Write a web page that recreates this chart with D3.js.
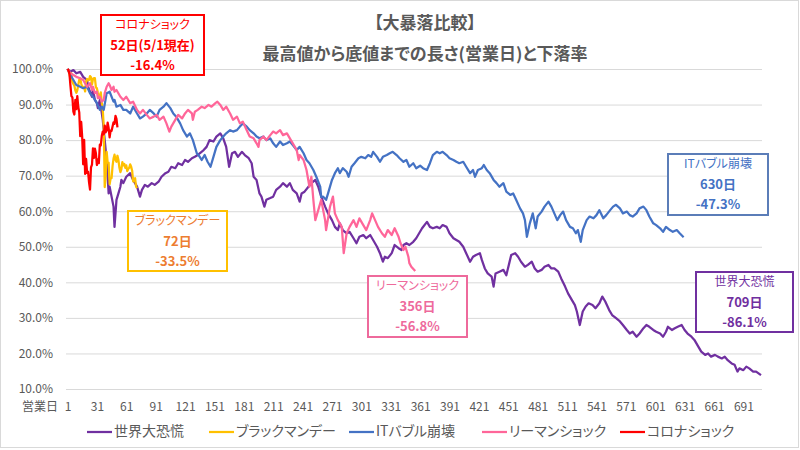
<!DOCTYPE html>
<html>
<head>
<meta charset="utf-8">
<script src="https://cdn.jsdelivr.net/npm/d3@7"></script>
<style>
body { margin: 0; background: #fff; }
text { font-family: "Noto Sans CJK JP", "Noto Sans", sans-serif; font-feature-settings: "palt"; }
</style>
</head>
<body>
<div id="chart"></div>
<script>
// chart data ([営業日, % of peak])
var seriesNames = ["世界大恐慌", "ブラックマンデー", "ITバブル崩壊", "リーマンショック", "コロナショック"];
var seriesColors = ["#7030A0", "#FFC000", "#4472C4", "#FF6699", "#FF0000"];

var depression = [[1,100],[4,99.2],[7,99.7],[10,98.8],[14,99.2],[17,97.8],[21,96.9],[22,95],[24,93.6],[26,92.2],[27,94.1],[29,91.3],[31,90.4],[32,89],[34,91.3],[37,85.7],[39,80],[41,74.4],[43,65],[44,66.9],[46,64.1],[48,61.3],[49,55.6],[51,63.2],[53,65],[55,66.9],[56,68.8],[58,67.9],[61,69.7],[65,70.7],[68,68.8],[72,66.9],[75,64.1],[77,66],[80,67.4],[83,66.9],[87,67.9],[90,67.4],[94,68.3],[97,69.7],[101,70.7],[104,71.1],[107,72.5],[111,72.1],[114,73.5],[118,73],[121,74.4],[124,73.9],[128,74.9],[131,75.3],[134,75.8],[136,76.3],[140,77.2],[143,78.1],[146,80],[150,79.6],[153,81],[157,81.9],[160,80.5],[163,78.1],[166,72.5],[169,76.3],[172,76.7],[175,75.3],[179,76.7],[182,75.8],[186,74.9],[189,73.5],[191,69.7],[194,68.8],[197,65],[199,64.1],[202,61.3],[204,63.2],[208,63.7],[211,64.1],[214,66],[218,66.9],[221,67.9],[225,66.9],[228,67.9],[231,66],[235,65],[238,62.7],[240,65],[243,65.5],[247,66.9],[250,67.9],[254,68.8],[257,66.9],[260,64.1],[264,61.3],[267,59.4],[271,57.5],[274,55.6],[277,54.7],[279,56.6],[282,54.7],[286,53.8],[289,54.2],[293,52.4],[296,51],[299,52.8],[303,53.3],[306,52.4],[310,53.3],[313,51.9],[317,50],[320,48.2],[323,45.8],[325,47.2],[328,46.8],[332,48.2],[335,50.5],[339,49.6],[342,49.1],[344,50.5],[347,51],[350,50.5],[354,51.4],[357,52.4],[360,53.8],[363,55.2],[368,57],[371,55.6],[374,55.2],[378,55.6],[381,55.2],[384,56.1],[388,55.6],[391,53.8],[395,52.4],[398,51.9],[401,51.4],[405,50],[408,48.2],[412,45.8],[415,47.2],[418,47.7],[422,48.2],[424,46.3],[427,43.9],[430,42.5],[434,41.6],[436,38.8],[438,42.5],[442,43],[446,43.5],[449,42],[452,45.4],[454,47.7],[458,48.2],[461,47.2],[464,45.8],[468,44.4],[471,44.9],[475,45.8],[478,43.9],[481,43],[485,43.5],[488,44.4],[492,44.9],[495,43.9],[498,43.9],[502,43],[505,41.1],[509,38.8],[512,36.9],[516,35],[519,33.6],[521,31.8],[524,28],[527,31.8],[530,33.2],[533,34.1],[537,33.6],[540,32.7],[544,34.1],[547,36],[550,34.6],[554,32.2],[557,30.8],[561,29.9],[565,29],[568,28],[572,26.6],[575,25.6],[578,26.1],[582,24.7],[585,25.6],[589,27.1],[592,28],[595,27.5],[599,26.6],[602,26.1],[606,25.6],[609,24.7],[612,26.1],[614,27.5],[618,26.6],[621,27.1],[624,27.5],[628,28],[631,26.6],[634,25.6],[638,24.7],[641,23.8],[645,21.9],[648,20.5],[652,19.6],[655,20],[658,19.1],[662,19.6],[665,19.1],[669,18.6],[672,19.1],[675,18.1],[679,17.2],[682,16.8],[685,14.9],[687,15.8],[691,15.3],[694,16.3],[697,15.8],[701,14.9],[704,14.9],[709,13.9]];

var blackMonday = [[1,100],[2,99.6],[3,98.6],[4,97.3],[5,98.8],[6,96.4],[7,95.8],[8,95.3],[9,94],[10,93.3],[11,94],[12,95.5],[13,97],[14,97.3],[15,95.9],[16,95],[17,95],[18,94.9],[19,93.7],[20,96.5],[21,97.2],[22,96.8],[23,96.9],[24,98],[25,97.7],[26,95.6],[27,97.2],[28,97.4],[29,97.4],[30,94.8],[31,94.6],[32,93.3],[33,92.4],[34,91.9],[35,93.4],[36,90.6],[37,88.5],[38,83.9],[39,66.8],[40,70.3],[41,76.7],[42,73.7],[43,73.7],[44,67.6],[45,69.2],[46,69.3],[47,72.7],[48,74.8],[49,75.9],[50,74.5],[51,73.9],[52,75.6],[53,74.4],[54,72.2],[55,71],[56,71.8],[57,73.8],[58,72.9],[59,73.3],[60,72.2],[61,72.9],[62,71.3],[63,71.9],[64,72.2],[65,73.2],[66,72.5],[67,71.4],[68,68.4],[69,68.9],[70,69.3],[71,66.9],[72,66.5]];

var itBubble = [[1,100],[4,98.3],[7,96.9],[10,95.5],[14,95],[17,94.6],[21,95],[24,93.2],[27,92.2],[31,90.4],[34,88.5],[36,89.4],[38,88.5],[41,93.2],[44,93.6],[48,90.8],[49,91.3],[51,89.4],[55,89.9],[58,88.5],[61,88.5],[65,87.5],[68,89.4],[72,87.5],[75,86.1],[78,86.6],[82,87.5],[85,88.5],[89,87.5],[92,86.6],[95,88.5],[99,89.4],[102,90.4],[106,89],[109,87.5],[112,86.6],[116,84.7],[119,82.8],[123,81],[126,81.9],[129,80],[133,76.3],[136,75.3],[138,74.4],[141,75.8],[144,73.9],[147,72.5],[150,75.3],[153,78.1],[157,80],[160,81],[163,81.9],[167,82.8],[170,82.4],[174,82.8],[177,83.8],[180,84.7],[184,83.8],[187,82.8],[191,81.9],[194,81],[197,80.5],[201,81],[204,80],[208,80.5],[211,79.1],[214,78.1],[218,79.6],[221,78.6],[225,79.1],[228,79.6],[231,78.6],[235,77.2],[238,78.1],[242,76.3],[245,74.4],[248,73.5],[252,71.6],[255,69.7],[259,66.9],[260,64],[262,64.1],[265,63.2],[267,65],[271,68.8],[274,70.7],[277,72.1],[279,70.7],[282,72.1],[286,71.1],[288,69.7],[291,72.5],[294,73.5],[298,74.9],[301,75.3],[305,74.9],[308,75.8],[311,75.3],[313,76.7],[317,75.3],[320,73.9],[323,75.3],[327,75.8],[330,76.3],[333,76.7],[337,75.8],[340,74.9],[344,73.9],[347,74.4],[350,72.5],[354,73.5],[357,72.1],[361,72.8],[364,72.1],[368,71.6],[371,73.5],[374,75.8],[378,76.7],[381,76.3],[384,76.7],[388,75.8],[391,74.9],[395,74.4],[398,73.9],[401,73.5],[405,73.9],[408,72.5],[412,70.7],[415,71.6],[417,69.7],[420,71.6],[424,72.1],[426,73],[429,71.6],[432,70.7],[436,68.8],[439,67.9],[442,66.9],[446,67.9],[449,65.5],[453,64.6],[456,65],[459,63.2],[463,60.8],[466,59.4],[468,57.5],[470,52.8],[473,56.6],[476,59.4],[479,55.2],[481,58.5],[485,59.9],[488,61.3],[492,62.7],[495,61.3],[498,59.4],[501,57.5],[504,58.9],[507,59.9],[510,57.5],[514,55.6],[517,55.2],[520,53.8],[522,54.7],[525,51.4],[527,54.7],[531,57.5],[534,58.5],[538,58],[541,58.9],[544,60.3],[548,58],[551,58.9],[555,60.3],[558,61.3],[561,61.8],[565,60.8],[568,59.4],[572,59.9],[575,58.9],[578,58.5],[582,59.4],[585,60.8],[589,61.3],[592,60.3],[595,58.5],[599,56.6],[602,56.1],[606,55.2],[609,54.2],[612,55.6],[616,54.7],[619,54.2],[623,54.7],[626,53.8],[630,52.7]];

var lehman = [[1,100],[4,98.8],[7,98.3],[10,97.8],[14,97.4],[17,96.9],[21,95],[24,96],[26,94.1],[27,95],[29,93.2],[31,93.6],[32,91.8],[34,92.2],[36,90.8],[38,91.3],[39,93.2],[41,95],[43,96],[44,95.5],[46,94.1],[48,95],[49,93.6],[51,94.1],[55,92.2],[58,91.3],[61,92.2],[65,90.4],[68,90.8],[72,88.5],[75,87.5],[78,88.5],[82,87.1],[85,86.1],[89,86.6],[92,87.1],[95,85.7],[99,86.6],[102,84.7],[105,82.4],[107,83.8],[111,85.7],[114,87.1],[118,86.1],[121,87.5],[124,88.5],[128,87.5],[129,85.7],[131,88],[134,88.5],[138,89.4],[141,89],[145,89.9],[148,89.4],[152,90.4],[154,90.8],[157,89.9],[160,88.5],[163,89.4],[167,87.5],[170,85.7],[174,86.6],[177,84.7],[180,85.2],[184,82.8],[187,81],[191,80.5],[194,79.1],[196,78.1],[197,80],[201,81],[204,80],[208,81.4],[211,82.4],[214,81.9],[218,82.8],[221,81.4],[225,81.9],[228,80.5],[231,79.1],[235,77.2],[237,74.4],[238,75.8],[242,74.4],[245,71.6],[248,66.9],[250,69.7],[252,63.2],[254,57.5],[257,60.3],[260,63.2],[264,57.5],[265,54.7],[269,61.3],[271,63.2],[272,64.1],[274,59.4],[277,57.5],[281,55.6],[283,48.2],[286,53.8],[289,55.6],[293,57.5],[296,55.6],[299,58],[303,56.1],[306,54.7],[310,57.5],[312,59.4],[315,57.5],[318,55.6],[322,53.8],[325,52.8],[328,54.7],[332,53.3],[335,55.2],[339,52.8],[341,51],[344,49.1],[346,50],[349,47.2],[350,45.4],[352,44.4],[356,43.2]];

var corona = [[1,100],[2,99.6],[3,98.6],[4,95.3],[5,92.4],[6,92],[7,88],[8,87.2],[9,91.3],[10,88.7],[11,92.4],[12,89.3],[13,87.8],[14,81.1],[15,85.1],[16,80.9],[17,73.2],[18,80.1],[19,70.5],[20,74.7],[21,70.8],[22,71.1],[23,68.1],[24,66.1],[25,72.3],[26,73.1],[27,77.7],[28,75],[29,77.6],[30,76.3],[31,73],[32,74.6],[33,73.5],[34,78.7],[35,78.5],[36,81.2],[37,82.4],[38,81.6],[39,84.1],[40,82.2],[41,82.7],[42,84.9],[43,83.4],[44,80.8],[45,82.7],[46,82.6],[47,83.8],[48,85],[49,84.6],[50,86.8],[51,86],[52,83.6]];

var seriesData = [depression, blackMonday, itBubble, lehman, corona];

var yTicks = [10, 20, 30, 40, 50, 60, 70, 80, 90, 100];
var xTicks = [1, 31, 61, 91, 121, 151, 181, 211, 241, 271, 301, 331, 361, 391, 421, 451, 481, 511, 541, 571, 601, 631, 661, 691];

var titleLines = ["【大暴落比較】", "最高値から底値までの長さ(営業日)と下落率"];
var calloutNames = ["コロナショック", "ブラックマンデー", "ITバブル崩壊", "リーマンショック", "世界大恐慌"];
var calloutDays = ["52日(5/1現在)", "72日", "630日", "356日", "709日"];
var calloutDrops = ["-16.4%", "-33.5%", "-47.3%", "-56.8%", "-86.1%"];

function init() {
    var w = 800, h = 450;
    var plotLeft = 66, plotRight = 762;

    var svg = d3.select("#chart").append("svg")
                .attr("width", w)
                .attr("height", h);

    svg.append("rect")
       .attr("x", 0.5).attr("y", 0.5)
       .attr("width", w - 2).attr("height", h - 3)
       .attr("fill", "#fff")
       .attr("stroke", "#d9d9d9");

    var xScale = d3.scaleLinear().domain([1, 709]).range([67.5, 761]);
    var yScale = d3.scaleLinear().domain([10, 100]).range([389, 69]);

    // title
    svg.selectAll(".title")
       .data(titleLines)
       .enter().append("text")
       .attr("class", "title")
       .attr("x", 425)
       .attr("y", (d, i) => i === 0 ? 24 : 55)
       .attr("dominant-baseline", "middle")
       .attr("text-anchor", "middle")
       .attr("font-size", "17px")
       .attr("font-weight", "bold")
       .attr("fill", "#595959")
       .text(d => d);

    // y gridlines + labels
    var yAxis = svg.append("g")
        .attr("transform", "translate(" + plotLeft + ",0)")
        .call(d3.axisLeft(yScale)
                .tickValues(yTicks)
                .tickSize(-(plotRight - plotLeft))
                .tickPadding(13)
                .tickFormat(d => d.toFixed(1) + "%"));
    yAxis.select(".domain").remove();
    yAxis.selectAll("line").attr("stroke", "#d9d9d9");
    yAxis.selectAll("text")
         .attr("fill", "#595959")
         .style("font-size", "12px")
         .style("font-family", "'Noto Sans CJK JP', sans-serif");

    // x labels
    var xAxis = svg.append("g")
        .attr("transform", "translate(0,389)")
        .call(d3.axisBottom(xScale).tickValues(xTicks).tickSize(0).tickPadding(13));
    xAxis.select(".domain").remove();
    xAxis.selectAll("text")
         .attr("fill", "#595959")
         .style("font-size", "12px")
         .style("font-family", "'Noto Sans CJK JP', sans-serif");

    svg.append("text")
       .attr("x", 58).attr("y", 408)
       .attr("text-anchor", "end")
       .attr("dominant-baseline", "middle")
       .attr("font-size", "12px")
       .attr("fill", "#595959")
       .text("営業日");

    // lines
    var line = d3.line()
                 .x(d => xScale(d[0]))
                 .y(d => yScale(d[1]));

    svg.selectAll(".series")
       .data(seriesData)
       .enter().append("path")
       .attr("class", "series")
       .attr("d", line)
       .attr("fill", "none")
       .attr("stroke", (d, i) => seriesColors[i])
       .attr("stroke-width", 2.25)
       .attr("stroke-linejoin", "round");

    // callout boxes (corona, black monday, IT, lehman, depression)
    var boxes = [
        { x: 101, y: 15, w: 103, h: 60, stroke: "#FF0000", fill: "#FF0000" },
        { x: 128, y: 211, w: 99, h: 60, stroke: "#FFC000", fill: "#ED7D31" },
        { x: 668, y: 154, w: 100, h: 61, stroke: "#5B7DB8", fill: "#4472C4" },
        { x: 368, y: 276, w: 99, h: 61, stroke: "#EE6A9C", fill: "#EE6A9C" },
        { x: 696, y: 272, w: 97, h: 60, stroke: "#7030A0", fill: "#7030A0" }
    ];

    boxes.forEach(function(b, i) {
        var g = svg.append("g");
        g.append("rect")
         .attr("x", b.x).attr("y", b.y)
         .attr("width", b.w).attr("height", b.h)
         .attr("fill", "#fff")
         .attr("stroke", b.stroke)
         .attr("stroke-width", 2);
        [calloutNames[i], calloutDays[i], calloutDrops[i]].forEach(function(t, j) {
            g.append("text")
             .attr("x", b.x + b.w / 2)
             .attr("y", b.y + 11 + j * 20)
             .attr("text-anchor", "middle")
             .attr("dominant-baseline", "middle")
             .attr("font-size", j === 0 ? "12px" : "13px")
             .attr("font-weight", j === 0 ? "normal" : "bold")
             .attr("fill", b.fill)
             .text(t);
        });
    });

    // legend
    var legendX = [87, 209, 349, 482, 620];
    var legend = svg.selectAll(".legend")
                    .data(seriesNames)
                    .enter().append("g")
                    .attr("class", "legend")
                    .attr("transform", (d, i) => "translate(" + legendX[i] + ",432)");
    legend.append("line")
          .attr("x1", 0).attr("x2", 25)
          .attr("stroke", (d, i) => seriesColors[i])
          .attr("stroke-width", 2.25);
    legend.append("text")
          .attr("x", 27)
          .attr("dominant-baseline", "middle")
          .attr("font-size", "14px")
          .attr("fill", "#595959")
          .text(d => d);
}

window.onload = init;
</script>
</body>
</html>
